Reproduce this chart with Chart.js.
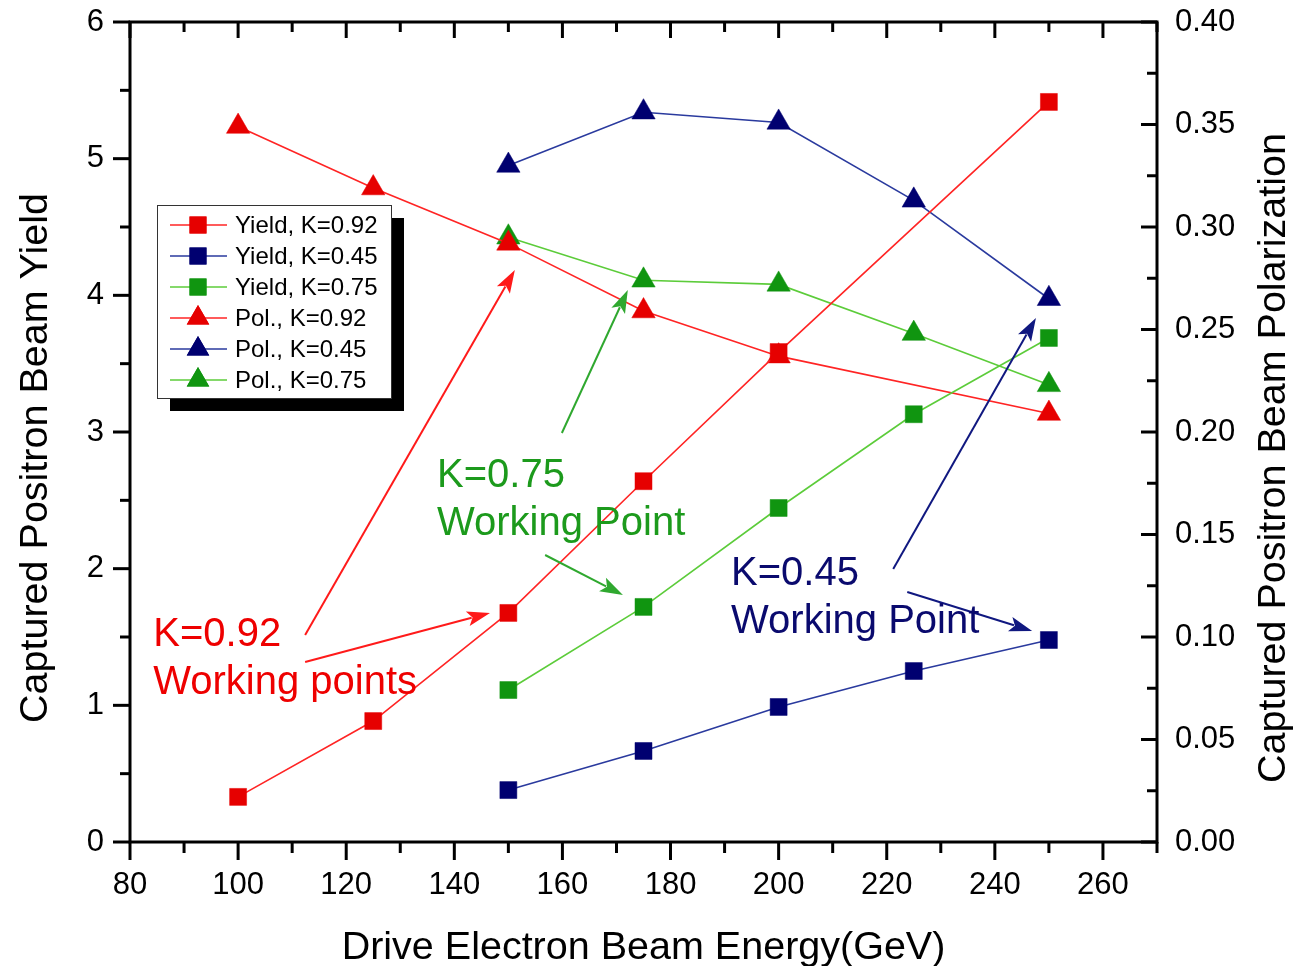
<!DOCTYPE html>
<html>
<head>
<meta charset="utf-8">
<title>Positron yield and polarization</title>
<script src="https://cdn.jsdelivr.net/npm/chart.js@4/dist/chart.umd.min.js"></script>
<style>
  html, body { margin: 0; padding: 0; background: #fff; }
  #chart { display: block; }
</style>
</head>
<body>
<canvas id="chart" width="1297" height="966"></canvas>
<script>
// Beam energies (GeV) for each undulator setting
const energyK092 = [100, 125, 150, 175, 200, 250];
const energyK045 = [150, 175, 200, 225, 250];
const energyK075 = [150, 175, 200, 225, 250];

// Captured positron yield
const yieldK092 = [0.33, 0.885, 1.676, 2.64, 3.585, 5.415];
const yieldK045 = [0.38, 0.666, 0.988, 1.251, 1.478];
const yieldK075 = [1.112, 1.72, 2.444, 3.13, 3.688];

// Captured positron polarization
const polK092 = [0.349, 0.319, 0.292, 0.259, 0.237, 0.209];
const polK045 = [0.330, 0.356, 0.351, 0.313, 0.265];
const polK075 = [0.295, 0.274, 0.272, 0.248, 0.223];

// Tick labels
const energyTicks = [80, 100, 120, 140, 160, 180, 200, 220, 240, 260];
const yieldTicks = [0, 1, 2, 3, 4, 5, 6];
const polTicks = [0, 0.05, 0.10, 0.15, 0.20, 0.25, 0.30, 0.35, 0.40];

const FONT = "'Liberation Sans', Arial, Helvetica, sans-serif";

const RED = '#e60000', RED_LINE = '#ff2424';
const NAVY = '#000070', NAVY_LINE = '#2a3a9e';
const GREEN = '#109510', GREEN_LINE = '#5ccc3a';

function pairs(xs, ys) {
  return xs.map((x, i) => ({ x: x, y: ys[i] }));
}

function series(label, xs, ys, axis, marker, line, shape) {
  return {
    label: label,
    data: pairs(xs, ys),
    yAxisID: axis,
    borderColor: line,
    borderWidth: 1.6,
    backgroundColor: marker,
    pointStyle: shape,
    pointRadius: shape === 'rect' ? 12 : 13.5,
    pointBackgroundColor: marker,
    pointBorderColor: marker,
    pointBorderWidth: 0.5,
    tension: 0
  };
}

// Text labels and arrows, placed in axis units (energy, yield)
const notes = [
  { color: '#ee0000', x: 84.3, y: 1.434, lines: ['K=0.92', 'Working points'] },
  { color: '#1c9a1c', x: 136.8, y: 2.598, lines: ['K=0.75', 'Working Point'] },
  { color: '#0a0a6e', x: 191.2, y: 1.88, lines: ['K=0.45', 'Working Point'] }
];
const arrows = [
  { color: '#ff1a1a', from: [112.4, 1.515], to: [151.2, 4.185] },
  { color: '#ff1a1a', from: [112.4, 1.317], to: [146.6, 1.676] },
  { color: '#2fa82f', from: [159.9, 2.993], to: [172.1, 4.039] },
  { color: '#2fa82f', from: [156.8, 2.10], to: [171.2, 1.807] },
  { color: '#101880', from: [221.2, 1.998], to: [247.6, 3.834] },
  { color: '#101880', from: [223.8, 1.829], to: [246.9, 1.544] }
];

function drawArrow(ctx, x1, y1, x2, y2, color) {
  const len = Math.hypot(x2 - x1, y2 - y1);
  const ux = (x2 - x1) / len, uy = (y2 - y1) / len;
  const head = 23, half = 7.5;
  const bx = x2 - ux * head, by = y2 - uy * head;
  ctx.strokeStyle = color;
  ctx.fillStyle = color;
  ctx.lineWidth = 2;
  ctx.beginPath();
  ctx.moveTo(x1, y1);
  ctx.lineTo(bx + ux * 4, by + uy * 4);
  ctx.stroke();
  ctx.beginPath();
  ctx.moveTo(x2, y2);
  ctx.lineTo(bx - uy * half, by + ux * half);
  ctx.lineTo(bx + ux * 5, by + uy * 5);
  ctx.lineTo(bx + uy * half, by - ux * half);
  ctx.closePath();
  ctx.fill();
}

// Frame, ticks, titles, notes and the boxed legend
const decorations = {
  id: 'decorations',
  beforeDraw(chart) {
    const ctx = chart.ctx;
    ctx.save();
    ctx.fillStyle = '#fff';
    ctx.fillRect(0, 0, chart.width, chart.height);
    ctx.restore();
  },
  afterDatasetsDraw(chart) {
    const ctx = chart.ctx;
    const a = chart.chartArea;
    const sx = chart.scales.x, sy = chart.scales.y, sy2 = chart.scales.y2;

    ctx.save();
    // frame
    ctx.strokeStyle = '#000';
    ctx.lineWidth = 3;
    ctx.strokeRect(a.left, a.top, a.right - a.left, a.bottom - a.top);

    // tick marks
    ctx.lineCap = 'butt';
    function tick(x1, y1, x2, y2) {
      ctx.beginPath();
      ctx.moveTo(x1, y1);
      ctx.lineTo(x2, y2);
      ctx.stroke();
    }
    energyTicks.forEach(v => {
      const x = sx.getPixelForValue(v);
      tick(x, a.bottom, x, a.bottom + 18);
      tick(x, a.top, x, a.top + 16);
      const m = sx.getPixelForValue(v + 10);
      tick(m, a.bottom, m, a.bottom + 11);
      tick(m, a.top, m, a.top + 10);
    });
    yieldTicks.forEach((v, i) => {
      const y = sy.getPixelForValue(v);
      tick(a.left - 17, y, a.left, y);
      if (i < yieldTicks.length - 1) {
        const m = sy.getPixelForValue(v + 0.5);
        tick(a.left - 10, m, a.left, m);
      }
    });
    polTicks.forEach((v, i) => {
      const y = sy2.getPixelForValue(v);
      tick(a.right - 16, y, a.right, y);
      if (i < polTicks.length - 1) {
        const m = sy2.getPixelForValue(v + 0.025);
        tick(a.right - 10, m, a.right, m);
      }
    });

    // axis titles
    ctx.fillStyle = '#000';
    ctx.font = '39.5px ' + FONT;
    ctx.textAlign = 'center';
    ctx.textBaseline = 'alphabetic';
    ctx.fillText('Drive Electron Beam Energy(GeV)', (a.left + a.right) / 2, 959);
    ctx.save();
    ctx.translate(47, 458);
    ctx.rotate(-Math.PI / 2);
    ctx.fillText('Captured Positron Beam Yield', 0, 0);
    ctx.restore();
    ctx.save();
    ctx.translate(1285, 458);
    ctx.rotate(-Math.PI / 2);
    ctx.fillText('Captured Positron Beam Polarization', 0, 0);
    ctx.restore();

    // arrows
    arrows.forEach(ar => {
      drawArrow(ctx,
        sx.getPixelForValue(ar.from[0]), sy.getPixelForValue(ar.from[1]),
        sx.getPixelForValue(ar.to[0]), sy.getPixelForValue(ar.to[1]),
        ar.color);
    });

    // notes
    ctx.font = '40px ' + FONT;
    ctx.textAlign = 'left';
    notes.forEach(n => {
      ctx.fillStyle = n.color;
      const x = sx.getPixelForValue(n.x);
      const y = sy.getPixelForValue(n.y);
      n.lines.forEach((t, i) => ctx.fillText(t, x, y + i * 48));
    });

    // legend with drop shadow
    const lx = 157, ly = 205, lw = 234, lh = 193;
    ctx.fillStyle = '#000';
    ctx.fillRect(lx + 13, ly + 13, lw, lh);
    ctx.fillStyle = '#fff';
    ctx.fillRect(lx, ly, lw, lh);
    ctx.strokeStyle = '#333';
    ctx.lineWidth = 1;
    ctx.strokeRect(lx + 0.5, ly + 0.5, lw, lh);
    ctx.font = '24px ' + FONT;
    ctx.textBaseline = 'middle';
    chart.data.datasets.forEach((ds, i) => {
      const y = 225 + i * 31;
      ctx.strokeStyle = ds.borderColor;
      ctx.lineWidth = 1.6;
      ctx.beginPath();
      ctx.moveTo(170, y);
      ctx.lineTo(227, y);
      ctx.stroke();
      ctx.fillStyle = ds.pointBackgroundColor;
      Chart.helpers.drawPoint(ctx, {
        pointStyle: ds.pointStyle,
        radius: ds.pointStyle === 'rect' ? 12 : 13,
        rotation: 0,
        borderWidth: 0
      }, 198, y);
      ctx.fill();
      ctx.fillStyle = '#000';
      ctx.fillText(ds.label, 235, y + 1);
    });
    ctx.restore();
  }
};

const tickFont = { family: FONT, size: 31 };
// invisible tick marks only set the gap between axis and labels
const hiddenGrid = len => ({
  display: true,
  drawOnChartArea: false,
  drawTicks: true,
  tickLength: len,
  color: 'rgba(0,0,0,0)'
});

new Chart(document.getElementById('chart'), {
  type: 'line',
  data: {
    datasets: [
      series('Yield, K=0.92', energyK092, yieldK092, 'y', RED, RED_LINE, 'rect'),
      series('Yield, K=0.45', energyK045, yieldK045, 'y', NAVY, NAVY_LINE, 'rect'),
      series('Yield, K=0.75', energyK075, yieldK075, 'y', GREEN, GREEN_LINE, 'rect'),
      series('Pol., K=0.92', energyK092, polK092, 'y2', RED, RED_LINE, 'triangle'),
      series('Pol., K=0.45', energyK045, polK045, 'y2', NAVY, NAVY_LINE, 'triangle'),
      series('Pol., K=0.75', energyK075, polK075, 'y2', GREEN, GREEN_LINE, 'triangle')
    ]
  },
  options: {
    responsive: false,
    animation: false,
    devicePixelRatio: 1,
    layout: { padding: { top: 22, left: 0, right: 0, bottom: 0 } },
    plugins: {
      legend: { display: false },
      tooltip: { enabled: false }
    },
    scales: {
      x: {
        type: 'linear',
        min: 80,
        max: 270,
        grid: hiddenGrid(25),
        border: { display: false },
        afterBuildTicks: s => { s.ticks = energyTicks.map(v => ({ value: v })); },
        afterFit: s => { s.height = 124; },
        ticks: { font: tickFont, color: '#000', padding: 0, maxRotation: 0, autoSkip: false }
      },
      y: {
        position: 'left',
        min: 0,
        max: 6,
        grid: hiddenGrid(26),
        border: { display: false },
        afterBuildTicks: s => { s.ticks = yieldTicks.map(v => ({ value: v })); },
        afterFit: s => { s.width = 130; },
        ticks: { font: tickFont, color: '#000', padding: 0 }
      },
      y2: {
        position: 'right',
        min: 0,
        max: 0.40,
        grid: hiddenGrid(18),
        border: { display: false },
        afterBuildTicks: s => { s.ticks = polTicks.map(v => ({ value: v })); },
        afterFit: s => { s.width = 140; },
        ticks: { font: tickFont, color: '#000', padding: 0, callback: v => v.toFixed(2) }
      }
    }
  },
  plugins: [decorations]
});
</script>
</body>
</html>
